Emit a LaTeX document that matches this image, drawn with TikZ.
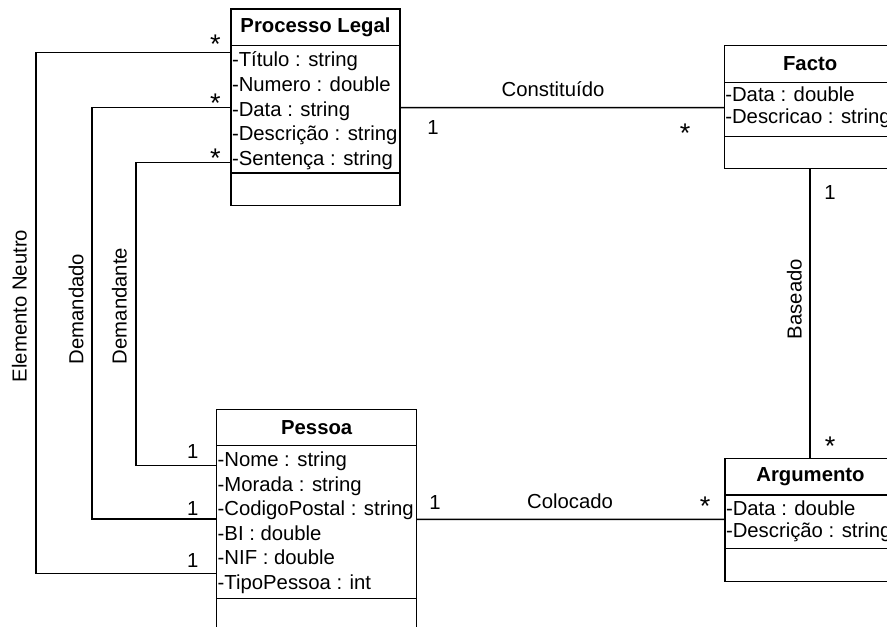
\documentclass[tikz,border=0pt]{standalone}
\usepackage{fontspec}
\setmainfont{Liberation Sans}
\usetikzlibrary{calc}

\begin{document}
\fontsize{20.3}{24}\selectfont
\begin{tikzpicture}[x=1pt,y=-1pt,line width=1.5pt,
  every node/.append style={inner sep=0pt,outer sep=0pt},
  compart/.style={draw,anchor=north west,minimum width=#1},
  classname/.style={font=\bfseries},
  attr/.style={anchor=base west},
  mult/.style={anchor=base},
  many/.style={anchor=base,font=\fontsize{27}{30}\selectfont},
  role/.style={rotate=90}]
\useasboundingbox (0,0) rectangle (887,627);
\clip (0,0) rectangle (887,627);
\node[compart=169,minimum height=36.7,classname] (pl-head) at (231,9) {Processo Legal};
\node[compart=169,minimum height=127.3] (pl-attr) at (pl-head.south west) {};
\node[compart=169,minimum height=32.7] (pl-ops) at (pl-attr.south west) {};
\node[attr] (pl-titulo) at (232,66.5) {-Título : string};
\node[attr] (pl-numero) at (232,91.3) {-Numero : double};
\node[attr] (pl-data) at (232,116) {-Data : string};
\node[attr] (pl-descr) at (232,140.8) {-Descrição : string};
\node[attr] (pl-sent) at (232,165.5) {-Sentença : string};
\node[compart=171.7,minimum height=36.6,classname] (fa-head) at (724.3,45.7) {Facto};
\node[compart=171.7,minimum height=54.4] (fa-attr) at (fa-head.south west) {};
\node[compart=171.7,minimum height=31.6] (fa-ops) at (fa-attr.south west) {};
\node[attr] (fa-data) at (725.3,101.7) {-Data : double};
\node[attr] (fa-descr) at (725.3,123.8) {-Descricao : string};
\node[compart=200,minimum height=36.4,classname] (pe-head) at (216.7,409.3) {Pessoa};
\node[compart=200,minimum height=152.6] (pe-attr) at (pe-head.south west) {};
\node[compart=200,minimum height=45] (pe-ops) at (pe-attr.south west) {};
\node[attr] (pe-nome) at (217.7,466.7) {-Nome : string};
\node[attr] (pe-morada) at (217.7,491.2) {-Morada : string};
\node[attr] (pe-codigo) at (217.7,515.6) {-CodigoPostal : string};
\node[attr] (pe-bi) at (217.7,540) {-BI : double};
\node[attr] (pe-nif) at (217.7,564.5) {-NIF : double};
\node[attr] (pe-tipo) at (217.7,589) {-TipoPessoa : int};
\node[compart=171,minimum height=36.7,classname] (ar-head) at (725,458.3) {Argumento};
\node[compart=171,minimum height=53.3] (ar-attr) at (ar-head.south west) {};
\node[compart=171,minimum height=33.4] (ar-ops) at (ar-attr.south west) {};
\node[attr] (ar-data) at (726,515.7) {-Data : double};
\node[attr] (ar-descr) at (726,537.3) {-Descrição : string};
\draw ($(pl-attr.north west)+(0,6.6)$) -- ++(-195,0) |- ($(pe-attr.north west)+(0,127.6)$);
\draw ($(pl-attr.north west)+(0,62)$) -- ++(-139,0) |- ($(pe-attr.north west)+(0,73.3)$);
\draw ($(pl-attr.north west)+(0,117)$) -- ++(-95,0) |- ($(pe-attr.north west)+(0,20)$);
\draw ($(pl-attr.north east)+(0,62)$) -- ($(fa-attr.north west)+(0,25.4)$);
\draw (fa-ops.south) -- (fa-ops.south |- ar-head.north);
\draw ($(pe-attr.north east)+(0,73.6)$) -- ($(ar-attr.north west)+(0,24.3)$);
\node[role] (lbl-neutro) at (19.4,306) {Elemento Neutro};
\node[role] (lbl-demandado) at (76,309) {Demandado};
\node[role] (lbl-demandante) at (119.4,306) {Demandante};
\node[role] (lbl-baseado) at (794.4,299) {Baseado};
\node[mult] (lbl-constituido) at (553,96.7) {Constituído};
\node[mult] (lbl-colocado) at (570,508.3) {Colocado};
\node[many] (m-neutro-pl) at (215.5,53.5) {*};
\node[many] (m-demandado-pl) at (215.5,112.5) {*};
\node[many] (m-demandante-pl) at (215.5,167.5) {*};
\node[mult] (m-neutro-pe) at (192.7,567.3) {1};
\node[mult] (m-demandado-pe) at (192.7,515.6) {1};
\node[mult] (m-demandante-pe) at (192.7,458) {1};
\node[mult] (m-const-pl) at (433,134) {1};
\node[many] (m-const-fa) at (685,142.5) {*};
\node[mult] (m-base-fa) at (830,199) {1};
\node[many] (m-base-ar) at (830,455.8) {*};
\node[mult] (m-col-pe) at (435,509) {1};
\node[many] (m-col-ar) at (705,515.8) {*};
\end{tikzpicture}
\end{document}
